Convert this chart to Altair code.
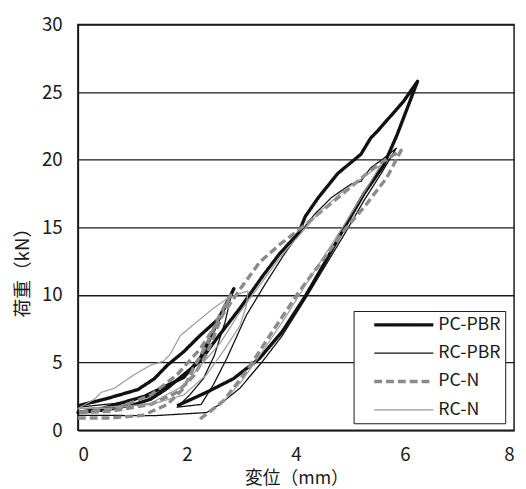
import altair as alt
import pandas as pd

series_names = ["PC-PBR", "RC-PBR", "PC-N", "RC-N"]

pc_pbr_x = [0, 0.5, 1.1, 1.4, 1.64, 1.94, 2.24, 2.6, 2.86,
            2.6, 2.42, 2.24, 1.94, 1.22, 0.44, 0,
            0.5, 1.04, 1.34, 1.64, 1.94, 2.24, 2.55, 2.97, 3.39, 3.69, 4.05, 4.17, 4.41, 4.77, 5.01, 5.19, 5.37, 5.49, 5.73, 5.97, 6.23,
            5.85, 5.61, 5.25, 4.89, 4.53, 4.17, 3.75, 3.33, 2.85, 2.36, 1.82]
pc_pbr_y = [1.8, 2.3, 3.0, 3.8, 4.8, 5.8, 7.0, 8.3, 10.45,
            8.4, 6.8, 5.3, 3.9, 2.5, 1.6, 1.3,
            1.5, 1.9, 2.3, 3.1, 4.1, 5.1, 6.8, 9.0, 11.4, 13.0, 14.6, 15.8, 17.2, 19.0, 19.8, 20.4, 21.6, 22.1, 23.2, 24.3, 25.8,
            21.8, 19.6, 17.5, 15.0, 12.4, 9.9, 7.3, 5.3, 3.8, 2.8, 1.8]

rc_pbr_x = [0, 0.74, 1.34, 1.82, 2.12, 2.36, 2.6, 2.82,
            2.7, 2.5, 2.3, 2.05, 1.82,
            2.26, 2.49, 2.73, 3.09, 3.45, 3.8, 4.05, 4.35, 4.65, 5.01, 5.19, 5.37, 5.61, 5.84,
            5.55, 5.25, 4.89, 4.53, 4.17, 3.75, 3.39, 2.97, 2.6, 2.36, 1.4, 0]
rc_pbr_y = [1.7, 2.0, 2.5, 3.6, 4.6, 6.0, 8.2, 10.1,
            8.0, 5.5, 3.8, 2.6, 1.7,
            1.9, 3.4, 5.3, 8.5, 10.9, 13.1, 14.5, 16.0, 17.2, 18.2, 18.4, 19.4, 20.1, 20.85,
            18.9, 17.0, 14.5, 12.1, 9.7, 7.0, 5.1, 3.1, 1.9, 1.3, 1.07, 1.1]

pc_n_x = [0, 0.6, 1.2, 1.64, 1.94, 2.12, 2.36, 2.6, 2.8,
          2.6, 2.36, 2.12, 1.82, 1.34, 0.6, 0,
          0.7, 1.34, 1.82, 2.24, 2.6, 2.97, 3.33, 3.69, 4.05, 4.41, 4.77, 5.13, 5.49, 5.93,
          5.67, 5.25, 4.89, 4.53, 4.05, 3.57, 3.09, 2.67, 2.24]
pc_n_y = [0.9, 0.9, 1.1, 1.9, 3.1, 4.6, 6.3, 8.5, 10.0,
          8.0, 5.6, 4.0, 2.8, 1.9, 1.4, 1.3,
          1.6, 2.6, 4.1, 6.0, 8.2, 10.4, 12.4, 13.7, 14.8, 16.0, 17.2, 18.4, 19.6, 20.7,
          18.7, 16.5, 14.8, 12.8, 10.2, 7.3, 4.35, 2.16, 0.82]

rc_n_x = [0, 0.31, 0.43, 0.67, 1.03, 1.33, 1.57, 1.69, 1.88, 2.18, 2.48, 2.73, 2.97, 3.12,
          3.09, 2.97, 2.66, 2.36, 1.94, 1.34, 0,
          0.6, 1.34, 1.9, 2.3, 2.62, 2.95, 3.35, 3.75, 4.1, 4.5, 4.9, 5.2, 5.55,
          5.3, 4.95, 4.6, 4.2, 3.8, 3.4, 3.0, 2.6]
rc_n_y = [1.6, 2.3, 2.8, 3.1, 4.1, 4.8, 5.1, 5.6, 7.0, 8.0, 9.0, 9.7, 10.1, 10.3,
          9.2, 7.7, 5.8, 4.1, 2.6, 1.9, 1.6,
          1.6, 2.0, 3.2, 5.0, 6.5, 8.6, 10.8, 13.0, 14.6, 16.4, 17.8, 18.6, 19.6,
          17.9, 15.6, 13.4, 10.9, 8.3, 5.9, 3.6, 1.8]

x_ticks = [0, 2, 4, 6, 8]
y_ticks = [0, 5, 10, 15, 20, 25, 30]

rows = []
for name, xs, ys in [("PC-PBR", pc_pbr_x, pc_pbr_y), ("RC-PBR", rc_pbr_x, rc_pbr_y),
                     ("PC-N", pc_n_x, pc_n_y), ("RC-N", rc_n_x, rc_n_y)]:
    for i, (xv, yv) in enumerate(zip(xs, ys)):
        rows.append({"series": name, "x": xv, "y": yv, "order": i})
df = pd.DataFrame(rows)

font = "Noto Sans CJK JP"

legend = alt.Legend(title=None, orient="none", legendX=280, legendY=291,
                    symbolType="M-4,0H4", symbolSize=225, symbolOffset=37,
                    labelOffset=25.5, labelFontSize=18, labelFont=font, labelColor="#1a1a1a",
                    labelLimit=200,
                    padding=4.5, rowPadding=10.3, strokeColor="#1a1a1a",
                    fillColor="white", cornerRadius=0)

chart = alt.Chart(df).mark_line(strokeCap="butt", strokeJoin="round").encode(
    x=alt.X("x:Q", scale=alt.Scale(domain=[0, 8], nice=False),
            axis=alt.Axis(values=x_ticks, grid=False, ticks=False, title="変位（mm）",
                          labelFontSize=19, labelPadding=16, labelColor="#1a1a1a",
                          titleFontSize=18, titleFontWeight="normal", titleColor="#1a1a1a",
                          titleX=222, titleY=49, titleBaseline="middle",
                          domainColor="#1a1a1a", domainWidth=1.5, labelFont=font, titleFont=font)),
    y=alt.Y("y:Q", scale=alt.Scale(domain=[0, 30], nice=False),
            axis=alt.Axis(values=y_ticks, grid=True, gridColor="#1a1a1a", gridWidth=1.3, gridOpacity=1,
                          ticks=False, title="荷重（kN）",
                          labelFontSize=19, labelPadding=16, labelColor="#1a1a1a",
                          titleFontSize=19, titleFontWeight="normal", titleColor="#1a1a1a",
                          titleX=-56, titleY=247, titleBaseline="middle",
                          domainColor="#1a1a1a", domainWidth=1.5, labelFont=font, titleFont=font)),
    color=alt.Color("series:N", scale=alt.Scale(domain=series_names,
                                                range=["#111111", "#111111", "#8a8a8a", "#9a9a9a"]),
                    legend=legend),
    strokeWidth=alt.StrokeWidth("series:N", scale=alt.Scale(type="ordinal", domain=series_names,
                                                            range=[3.4, 1.3, 3.4, 1.2]),
                                legend=legend),
    strokeDash=alt.StrokeDash("series:N", scale=alt.Scale(domain=series_names,
                                                          range=[[1, 0], [1, 0], [8, 4], [1, 0]]),
                              legend=legend),
    order=alt.Order("order:Q"),
    detail="series:N",
).properties(
    width=443, height=412,
    padding={"left": 71, "top": 13, "right": 4, "bottom": 56},
    autosize=alt.AutoSizeParams(type="none"),
).configure_view(stroke="#1a1a1a", strokeWidth=1.5)

chart.save("out.html", embed_options={"renderer": "svg", "actions": False})
